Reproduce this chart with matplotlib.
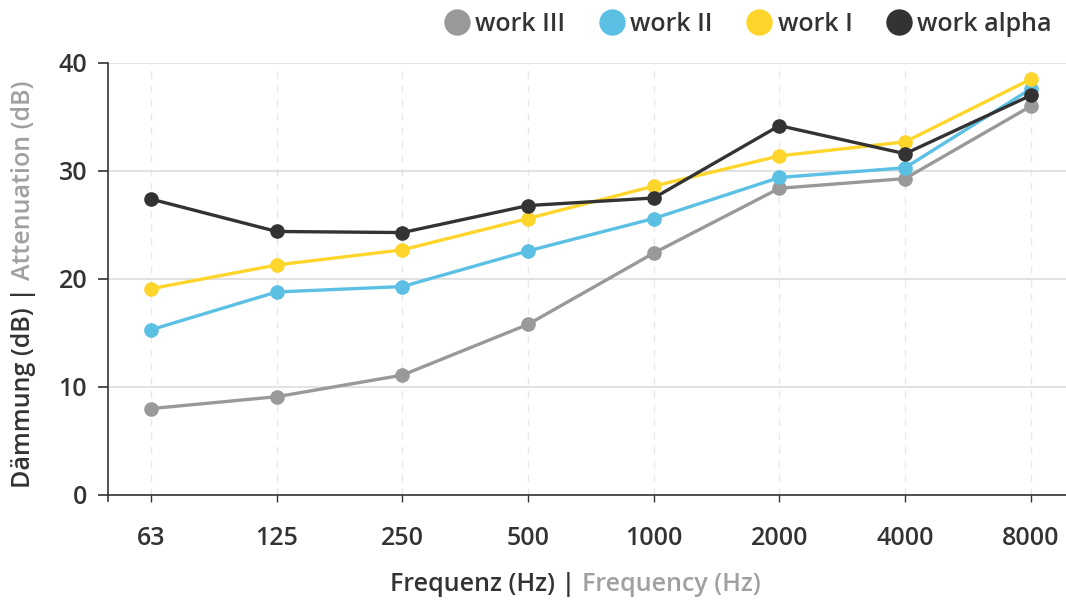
import matplotlib
matplotlib.use("Agg")
import matplotlib.pyplot as plt
from matplotlib.lines import Line2D

plt.rcParams['font.family'] = ['Open Sans', 'DejaVu Sans']

frequencies = ["63", "125", "250", "500", "1000", "2000", "4000", "8000"]
work_iii = [8.0, 9.1, 11.1, 15.8, 22.4, 28.4, 29.3, 36.0]
work_ii = [15.3, 18.8, 19.3, 22.6, 25.6, 29.4, 30.3, 37.6]
work_i = [19.1, 21.3, 22.7, 25.6, 28.6, 31.4, 32.7, 38.5]
work_alpha = [27.4, 24.4, 24.3, 26.8, 27.5, 34.2, 31.6, 37.0]

series = [
    ("work III", work_iii, "#999999"),
    ("work II", work_ii, "#5bc0e3"),
    ("work I", work_i, "#fed52a"),
    ("work alpha", work_alpha, "#333333"),
]

dark = "#333333"
light = "#a0a0a0"
fs = 18

W, H = 1066, 602
fig = plt.figure(figsize=(W / 100, H / 100), dpi=100)
ax = fig.add_axes([108 / W, 107 / H, 958 / W, 432 / H])

x = list(range(len(frequencies)))
for name, vals, col in series:
    ax.plot(x, vals, color=col, lw=2.4, marker="o", ms=9.5, zorder=3)

ax.set_xlim(-0.342, 7.28)
ax.set_ylim(0, 40)
ax.set_yticks([0, 10, 20, 30, 40])
ax.set_xticks(x)
ax.set_xticklabels(frequencies)

ax.grid(axis="y", color="#dddddd", lw=1.2)
ax.grid(axis="x", color="#e8e8e8", lw=1, ls=(0, (5, 5)))
ax.set_axisbelow(True)

for s in ["top", "right"]:
    ax.spines[s].set_visible(False)
for s in ["left", "bottom"]:
    ax.spines[s].set_color(dark)
    ax.spines[s].set_linewidth(1.2)

# little outer tick at the start of the x axis, like the original
ax.plot([0, 0], [0, -0.015], transform=ax.transAxes, color=dark, lw=1.2, clip_on=False)

ax.tick_params(axis="y", length=7, width=1.2, color=dark, labelsize=fs, labelcolor=dark, pad=8)
ax.tick_params(axis="x", length=5, width=1, color=dark, labelsize=fs, labelcolor=dark, pad=17)
for t in ax.get_xticklabels() + ax.get_yticklabels():
    t.set_fontweight("semibold")

# legend
handles = [Line2D([], [], ls="none", marker="o", ms=18, color=col) for _, _, col in series]
leg = fig.legend(handles, [n for n, _, _ in series], loc="upper right",
                 bbox_to_anchor=(1.008, 1.018), ncol=4, frameon=False,
                 handlelength=0.8, handletextpad=0.35, columnspacing=1.45,
                 prop={"size": fs, "weight": "semibold"})
for t in leg.get_texts():
    t.set_color(dark)

# two-coloured axis labels
fig.canvas.draw()
r = fig.canvas.get_renderer()

t1 = fig.text(390 / W, 11 / H, "Frequenz (Hz) | ", color=dark, fontsize=fs,
              fontweight="semibold", ha="left", va="baseline")
bb = t1.get_window_extent(r)
fig.text(bb.x1 / W, 11 / H, "Frequency (Hz)", color=light, fontsize=fs,
         fontweight="semibold", ha="left", va="baseline")

t2 = fig.text(30 / W, 114 / H, "Dämmung (dB) | ", color=dark, fontsize=fs,
              fontweight="semibold", rotation=90, ha="left", va="baseline",
              rotation_mode="anchor")
bb = t2.get_window_extent(r)
fig.text(30 / W, bb.y1 / H, "Attenuation (dB)", color=light, fontsize=fs,
         fontweight="semibold", rotation=90, ha="left", va="baseline",
         rotation_mode="anchor")

fig.savefig("out.png", dpi=100)
